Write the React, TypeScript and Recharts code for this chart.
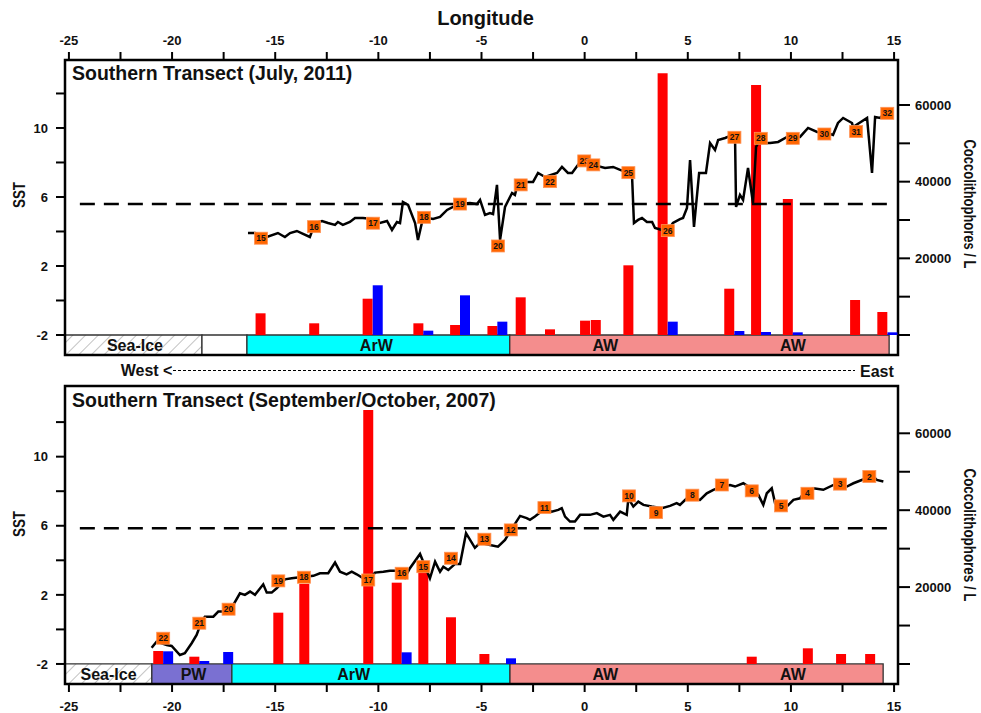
import React from "react";
import {
  ComposedChart,
  Line,
  ReferenceArea,
  ReferenceLine,
  Scatter,
  XAxis,
  YAxis,
} from "recharts";

const FONT = '"Liberation Sans", Arial, Helvetica, sans-serif';

// ---- axes ----
const LON_DOMAIN: [number, number] = [-25.19, 15.19];
const SST_MIN = -3.16;
const lonTicks = [-25, -22.5, -20, -17.5, -15, -12.5, -10, -7.5, -5, -2.5, 0, 2.5, 5, 7.5, 10, 12.5, 15];
const sstTicks = [-2, 0, 2, 4, 6, 8, 10, 12];
const sstLabels = [-2, 2, 6, 10];
const cellTicks = [0, 10000, 20000, 30000, 40000, 50000, 60000];
const cellLabels = [20000, 40000, 60000];

// ---- July 2011: SST along the transect [lon, SST] ----
const sstJuly2011: [number, number][] = [
  [-16.32, 3.91], [-15.98, 3.91], [-15.4, 3.68], [-14.87, 3.91], [-14.53, 3.68], [-14.28, 3.91],
  [-13.95, 4.03], [-13.65, 3.86], [-13.32, 3.68], [-13.07, 4.49], [-12.73, 4.61], [-12.44, 4.49],
  [-12.1, 4.38], [-11.96, 4.55], [-11.72, 4.38], [-11.38, 4.55], [-11.13, 4.78], [-10.75, 4.78],
  [-10.26, 4.72], [-9.92, 4.49], [-9.58, 4.61], [-9.34, 4.09], [-9.1, 4.55], [-8.95, 4.49],
  [-8.81, 5.71], [-8.56, 5.54], [-8.22, 4.49], [-8.08, 3.51], [-7.88, 4.55], [-7.59, 4.78],
  [-7.35, 4.72], [-7.01, 4.84], [-6.67, 5.25], [-6.38, 5.42], [-6.04, 5.59], [-5.56, 5.65],
  [-5.22, 5.59], [-5.07, 5.83], [-4.83, 4.96], [-4.59, 5.07], [-4.44, 5.01], [-4.25, 6.7],
  [-4.1, 3.51], [-3.86, 5.42], [-3.52, 6.23], [-3.38, 6.12], [-3.23, 6.81], [-2.99, 6.87],
  [-2.5, 6.87], [-2.26, 7.39], [-1.92, 7.16], [-1.34, 7.39], [-1.1, 7.74], [-0.81, 7.39],
  [-0.61, 7.39], [-0.22, 8.03], [0.12, 8.03], [0.41, 7.86], [0.99, 7.68], [1.38, 7.74],
  [1.72, 7.57], [2.2, 7.39], [2.3, 7.16], [2.39, 4.49], [2.59, 4.67], [2.78, 4.78],
  [3.02, 4.55], [3.27, 4.55], [3.41, 4.2], [3.75, 4.09], [3.99, 3.97], [4.28, 4.49],
  [4.62, 4.72], [4.77, 4.78], [4.96, 5.36], [5.11, 8.14], [5.3, 4.26], [5.55, 7.39],
  [5.88, 7.39], [6.08, 9.13], [6.32, 8.72], [6.47, 9.3], [6.81, 9.42], [7.15, 9.59],
  [7.29, 9.48], [7.34, 5.42], [7.53, 6.12], [7.68, 5.83], [7.92, 7.68], [8.16, 5.65],
  [8.31, 8.9], [8.41, 9.13], [8.99, 9.13], [9.38, 9.19], [9.81, 9.48], [10.44, 9.48],
  [10.83, 10.0], [11.27, 9.77], [11.75, 9.71], [12.04, 9.59], [12.28, 10.29], [12.53, 10.58],
  [12.96, 10.29], [13.01, 10.06], [13.69, 10.58], [13.93, 7.39], [14.08, 10.64], [14.32, 10.58],
  [14.56, 10.87], [14.9, 10.87],
];

// stations [number, lon, SST]
const stationsJuly2011: [number, number, number][] = [
  [15, -15.69, 3.61], [16, -13.12, 4.28], [17, -10.26, 4.48], [18, -7.79, 4.82], [19, -6.04, 5.59],
  [20, -4.2, 3.16], [21, -3.1, 6.7], [22, -1.68, 6.89], [23, -0.02, 8.09], [24, 0.42, 7.86],
  [25, 2.12, 7.41], [26, 4.03, 4.05], [27, 7.26, 9.46], [28, 8.54, 9.4], [29, 10.09, 9.4],
  [30, 11.62, 9.65], [31, 13.16, 9.79], [32, 14.67, 10.85],
];

// coccolithophores / L [lon, cells]
const redJuly2011: [number, number][] = [
  [-15.71, 5660], [-13.11, 3050], [-10.52, 9470], [-8.06, 3050], [-6.28, 2610], [-4.47, 2350],
  [-3.1, 9830], [-1.68, 1480], [0.02, 3740], [0.54, 3910], [2.12, 18180], [3.78, 68280],
  [7.01, 12080], [8.31, 65220], [9.85, 35480], [13.11, 9130], [14.43, 6000],
];
const blueJuly2011: [number, number][] = [
  [-10.03, 12970], [-7.58, 1130], [-5.8, 10350], [-3.99, 3480], [4.27, 3480],
  [7.5, 1040], [8.79, 780], [10.33, 700], [14.92, 700],
];

// water masses [name, from lon, to lon]
const massesJuly2011: [string, number, number][] = [
  ["Sea-Ice", -25.19, -18.55], ["", -18.55, -16.37], ["ArW", -16.37, -3.63], ["AW", -3.63, 14.76],
];
const massLabelsJuly2011: [string, number][] = [
  ["Sea-Ice", -21.8], ["ArW", -10.1], ["AW", 1.0], ["AW", 10.1],
];

// ---- September/October 2007 ----
const sstSepOct2007: [number, number][] = [
  [-20.99, -1.06], [-20.75, -0.71], [-20.26, -0.9], [-20.02, -0.96], [-19.62, -1.48], [-19.38, -1.38],
  [-19.05, -0.8], [-18.81, -0.32], [-18.57, 0.45], [-18.41, 0.74], [-18.0, 0.74], [-17.76, 1.03],
  [-17.52, 1.03], [-17.03, 1.42], [-16.71, 2.09], [-16.47, 2.0], [-16.22, 2.19], [-15.98, 2.0],
  [-15.58, 2.61], [-15.41, 2.13], [-15.17, 2.13], [-14.93, 2.38], [-14.53, 2.9], [-14.2, 2.96],
  [-13.8, 3.02], [-13.15, 3.1], [-12.83, 3.25], [-12.43, 3.25], [-12.1, 3.87], [-11.86, 3.34],
  [-11.54, 3.19], [-11.29, 3.34], [-11.05, 3.19], [-10.73, 2.96], [-10.49, 2.86], [-10.16, 3.29],
  [-9.76, 3.34], [-9.44, 3.4], [-8.95, 3.4], [-8.71, 3.0], [-8.47, 3.54], [-7.98, 4.37],
  [-7.5, 2.96], [-7.25, 3.92], [-7.01, 3.34], [-6.85, 3.63], [-6.61, 3.44], [-6.28, 3.79],
  [-6.04, 3.79], [-5.75, 5.57], [-5.32, 4.72], [-5.07, 5.01], [-4.59, 4.89], [-4.2, 4.79],
  [-3.86, 5.18], [-3.62, 5.66], [-3.13, 6.57], [-2.81, 6.44], [-2.65, 6.34], [-2.41, 6.53],
  [-2.0, 6.92], [-1.6, 6.82], [-1.28, 6.92], [-1.11, 7.02], [-0.95, 6.53], [-0.71, 6.24],
  [-0.47, 6.24], [-0.22, 6.63], [0.26, 6.63], [0.59, 6.73], [0.91, 6.53], [1.23, 6.63],
  [1.39, 6.34], [1.72, 6.82], [2.04, 6.63], [2.12, 7.59], [2.36, 7.11], [2.6, 7.4],
  [2.85, 7.21], [3.25, 7.11], [3.74, 7.02], [4.14, 7.15], [4.46, 7.31], [4.62, 7.21],
  [4.95, 7.59], [5.59, 7.5], [5.92, 7.88], [6.24, 8.08], [6.65, 8.27], [7.05, 8.36],
  [7.29, 8.27], [7.69, 8.46], [8.18, 8.08], [8.42, 7.79], [8.66, 7.21], [8.83, 7.88],
  [9.07, 8.17], [9.23, 7.31], [9.47, 6.92], [9.8, 7.11], [10.12, 7.5], [10.44, 7.59],
  [10.68, 7.98], [11.09, 8.17], [11.57, 8.08], [12.06, 8.36], [12.71, 8.27], [13.03, 8.46],
  [13.43, 8.65], [13.68, 8.75], [14.0, 8.85], [14.16, 8.65], [14.48, 8.56],
];

const stationsSepOct2007: [number, number, number][] = [
  [22, -20.43, -0.51], [21, -18.68, 0.36], [20, -17.26, 1.17], [19, -14.85, 2.81], [18, -13.61, 3.02],
  [17, -10.49, 2.86], [16, -8.87, 3.25], [15, -7.82, 3.63], [14, -6.48, 4.12], [13, -4.86, 5.22],
  [12, -3.58, 5.76], [11, -1.95, 7.05], [10, 2.15, 7.73], [9, 3.46, 6.76], [8, 5.22, 7.77],
  [7, 6.65, 8.36], [6, 8.1, 8.02], [5, 9.52, 7.15], [4, 10.8, 7.88], [3, 12.38, 8.41], [2, 13.8, 8.85],
];

const redSepOct2007: [number, number][] = [
  [-20.67, 3380], [-18.92, 1900], [-14.85, 13350], [-13.59, 20810], [-10.49, 66070], [-9.11, 21150],
  [-7.82, 24970], [-6.48, 12150], [-4.86, 2600], [8.1, 1900], [10.82, 4080], [12.43, 2600], [13.84, 2600],
];
const blueSepOct2007: [number, number][] = [
  [-20.19, 3300], [-18.44, 780], [-17.28, 3120], [-8.63, 3040], [-3.57, 1480],
];

const massesSepOct2007: [string, number, number][] = [
  ["Sea-Ice", -25.19, -20.98], ["PW", -20.98, -17.1], ["ArW", -17.1, -3.62], ["AW", -3.62, 14.47],
];
const massLabelsSepOct2007: [string, number][] = [
  ["Sea-Ice", -23.08], ["PW", -18.96], ["ArW", -11.2], ["AW", 1.0], ["AW", 10.1],
];

const MASS_FILL: Record<string, string> = {
  "": "#ffffff",
  ArW: "#00FFFF",
  AW: "#F48D8D",
  PW: "#7A70D2",
};

const StationBox = (p: any) => {
  const { cx, cy, payload } = p;
  return (
    <g>
      <rect x={cx - 6.5} y={cy - 6} width={13} height={12} fill="#FF6600" stroke="#FF9255" strokeWidth={0.8} />
      <text x={cx} y={cy + 3} textAnchor="middle" fontSize={8.5} fontWeight="bold" fontFamily={FONT} fill="#111">
        {payload.id}
      </text>
    </g>
  );
};

const MassLabel = (p: any) => (
  <text x={p.cx} y={p.cy + 6} textAnchor="middle" fontSize={16} fontWeight="bold" fontFamily={FONT} fill="#111">
    {p.payload.name}
  </text>
);

interface PanelProps {
  id: string;
  side: "top" | "bottom";
  height: number;
  margin: { top: number; right: number; bottom: number; left: number };
  sstMax: number;
  cellDomain: [number, number];
  dashY: number;
  sst: [number, number][];
  stations: [number, number, number][];
  red: [number, number][];
  blue: [number, number][];
  masses: [string, number, number][];
  massLabels: [string, number][];
}

function Panel(props: PanelProps) {
  const { id, side, sstMax, cellDomain } = props;
  const line = props.sst.map(([lon, sst]) => ({ lon, sst }));
  const stations = props.stations.map(([num, lon, sst]) => ({ id: num, lon, sst }));
  const labels = props.massLabels.map(([name, lon]) => ({ name, lon, sst: (SST_MIN - 2) / 2 }));
  const hatch = `ice-${id}`;

  const lonTick = (p: any) =>
    p.payload.value % 5 === 0 ? (
      <text x={p.x} y={side === "top" ? p.y - 5 : p.y + 17} textAnchor="middle" fontSize={13} fontWeight="bold" fontFamily={FONT} fill="#111">
        {p.payload.value}
      </text>
    ) : (
      <g />
    );
  const sstTick = (p: any) =>
    sstLabels.includes(p.payload.value) ? (
      <text x={p.x - 6} y={p.y} dy="0.36em" textAnchor="end" fontSize={13} fontWeight="bold" fontFamily={FONT} fill="#111">
        {p.payload.value}
      </text>
    ) : (
      <g />
    );
  const cellTick = (p: any) =>
    cellLabels.includes(p.payload.value) ? (
      <text x={p.x + 3} y={p.y} dy="0.36em" textAnchor="start" fontSize={13} fontWeight="bold" fontFamily={FONT} fill="#111">
        {p.payload.value}
      </text>
    ) : (
      <g />
    );

  return (
    <ComposedChart width={981} height={props.height} margin={props.margin}>
      <defs>
        <pattern id={hatch} patternUnits="userSpaceOnUse" width={9} height={9} patternTransform="rotate(45)">
          <rect width={9} height={9} fill="#fff" />
          <line x1={0} y1={0} x2={0} y2={9} stroke="#9a9a9a" strokeWidth={1.2} />
        </pattern>
      </defs>
      <XAxis
        xAxisId="lon"
        dataKey="lon"
        type="number"
        orientation={side}
        height={side === "top" ? 30 : 29}
        domain={LON_DOMAIN}
        allowDataOverflow
        ticks={lonTicks}
        interval={0}
        tickSize={8}
        axisLine={false}
        tickLine={{ stroke: "#000", strokeWidth: 2 }}
        tick={lonTick}
      />
      <YAxis
        yAxisId="sst"
        type="number"
        orientation="left"
        width={65}
        domain={[SST_MIN, sstMax]}
        allowDataOverflow
        ticks={sstTicks}
        interval={0}
        tickSize={9}
        axisLine={false}
        tickLine={{ stroke: "#000", strokeWidth: 2 }}
        tick={sstTick}
      />
      <YAxis
        yAxisId="cells"
        type="number"
        orientation="right"
        width={83}
        domain={cellDomain}
        allowDataOverflow
        ticks={cellTicks}
        interval={0}
        tickSize={12}
        axisLine={false}
        tickLine={{ stroke: "#000", strokeWidth: 2 }}
        tick={cellTick}
      />

      {props.masses.map(([name, from, to], i) => (
        <ReferenceArea
          key={`m-${i}`}
          xAxisId="lon"
          yAxisId="sst"
          x1={from}
          x2={to}
          y1={SST_MIN}
          y2={-2}
          fill={name === "Sea-Ice" ? `url(#${hatch})` : MASS_FILL[name]}
          fillOpacity={1}
          stroke="#333"
          strokeWidth={1.3}
          ifOverflow="visible"
        />
      ))}

      {props.red.map(([lon, cells], i) => (
        <ReferenceLine
          key={`r-${i}`}
          xAxisId="lon"
          yAxisId="cells"
          segment={[{ x: lon, y: 0 }, { x: lon, y: cells }]}
          stroke="#FF0000"
          strokeWidth={10}
          ifOverflow="visible"
        />
      ))}
      {props.blue.map(([lon, cells], i) => (
        <ReferenceLine
          key={`b-${i}`}
          xAxisId="lon"
          yAxisId="cells"
          segment={[{ x: lon, y: 0 }, { x: lon, y: cells }]}
          stroke="#0000FF"
          strokeWidth={10}
          ifOverflow="visible"
        />
      ))}

      <ReferenceLine
        xAxisId="lon"
        yAxisId="sst"
        segment={[{ x: -24.47, y: props.dashY }, { x: 14.98, y: props.dashY }]}
        stroke="#000"
        strokeWidth={2.5}
        strokeDasharray="15 9"
        ifOverflow="visible"
      />

      <Line
        xAxisId="lon"
        yAxisId="sst"
        data={line}
        dataKey="sst"
        stroke="#000"
        strokeWidth={2.5}
        dot={false}
        activeDot={false}
        isAnimationActive={false}
      />
      <Scatter
        xAxisId="lon"
        yAxisId="sst"
        data={labels}
        dataKey="sst"
        shape={MassLabel}
        isAnimationActive={false}
      />
      <Scatter
        xAxisId="lon"
        yAxisId="sst"
        data={stations}
        dataKey="sst"
        shape={StationBox}
        isAnimationActive={false}
      />

      <ReferenceArea
        xAxisId="lon"
        yAxisId="sst"
        x1={LON_DOMAIN[0]}
        x2={LON_DOMAIN[1]}
        y1={SST_MIN}
        y2={sstMax}
        fill="none"
        stroke="#000"
        strokeWidth={2.5}
        ifOverflow="visible"
      />
    </ComposedChart>
  );
}

export default function App() {
  return (
    <div style={{ position: "absolute", left: 0, top: 0, width: 981, height: 713, background: "#fff", fontFamily: FONT }}>
      <div style={{ position: "absolute", left: 0, top: 0 }}>
        <Panel
          id="2011"
          side="top"
          height={370}
          margin={{ top: 30, right: 0, bottom: 15, left: 0 }}
          sstMax={13.94}
          cellDomain={[-5217, 71739]}
          dashY={5.6}
          sst={sstJuly2011}
          stations={stationsJuly2011}
          red={redJuly2011}
          blue={blueJuly2011}
          masses={massesJuly2011}
          massLabels={massLabelsJuly2011}
        />
      </div>
      <div style={{ position: "absolute", left: 0, top: 370 }}>
        <Panel
          id="2007"
          side="bottom"
          height={343}
          margin={{ top: 16, right: 0, bottom: 0, left: 0 }}
          sstMax={14.09}
          cellDomain={[-5202, 72301]}
          dashY={5.86}
          sst={sstSepOct2007}
          stations={stationsSepOct2007}
          red={redSepOct2007}
          blue={blueSepOct2007}
          masses={massesSepOct2007}
          massLabels={massLabelsSepOct2007}
        />
      </div>
      <svg width={981} height={713} style={{ position: "absolute", left: 0, top: 0, pointerEvents: "none" }} fontFamily={FONT} fontWeight="bold" fill="#111">
        <text x={485.5} y={25} textAnchor="middle" fontSize={20}>Longitude</text>
        <text x={72} y={80} fontSize={19.5}>Southern Transect (July, 2011)</text>
        <text x={72} y={407} fontSize={19.5}>Southern Transect (September/October, 2007)</text>
        <text transform="translate(25,195) rotate(-90)" textAnchor="middle" fontSize={17} textLength={26} lengthAdjust="spacingAndGlyphs">SST</text>
        <text transform="translate(25,524) rotate(-90)" textAnchor="middle" fontSize={17} textLength={26} lengthAdjust="spacingAndGlyphs">SST</text>
        <text transform="translate(964,204) rotate(90)" textAnchor="middle" fontSize={16} textLength={129} lengthAdjust="spacingAndGlyphs">Coccolithophores / L</text>
        <text transform="translate(964,535) rotate(90)" textAnchor="middle" fontSize={16} textLength={133} lengthAdjust="spacingAndGlyphs">Coccolithophores / L</text>
        <text x={120.7} y={376} fontSize={16}>West &lt;</text>
        <line x1={173} y1={370.5} x2={855} y2={370.5} stroke="#000" strokeWidth={1} strokeDasharray="3 2" />
        <text x={860} y={376.5} fontSize={16}>East</text>
      </svg>
    </div>
  );
}
